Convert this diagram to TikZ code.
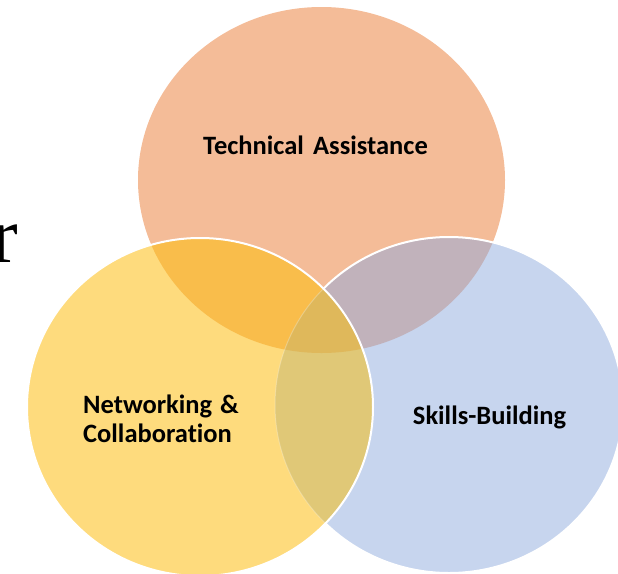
\documentclass[tikz,border=0pt]{standalone}
\usepackage{fontspec}
\setmainfont[Ligatures=NoCommon]{Carlito}
\newfontfamily\serifr{Liberation Serif}
\definecolor{cOr}{RGB}{244,188,152}
\definecolor{cYe}{RGB}{254,219,125}
\definecolor{cBl}{RGB}{199,213,238}
\definecolor{cOY}{RGB}{249,189,75}
\definecolor{cOB}{RGB}{193,178,187}
\definecolor{cYB}{RGB}{224,200,119}
\definecolor{cOYB}{RGB}{223,184,91}
\tikzset{
  lbl/.style={inner sep=0pt, text=black, font=\bfseries\fontsize{26.5}{28.5}\selectfont},
  rim/.style={draw=white, line width=2pt}
}
\def\Or{(321.5,180) ellipse [x radius=183.5pt, y radius=173pt]}
\def\Ye{(200,407) ellipse [x radius=173pt, y radius=169pt]}
\def\Bl{(449,405) ellipse [x radius=174pt, y radius=168pt]}
\begin{document}
\begin{tikzpicture}[x=1pt,y=-1pt]
\useasboundingbox (0,0) rectangle (618,573);
\clip (0,0) rectangle (618,573);
% stray glyph at the left edge
\node[anchor=base west, inner sep=0pt, font=\serifr\fontsize{80}{80}\selectfont] (rr) at (-9,262) {r};
% base circles
\fill[cOr] \Or;
\fill[cBl] \Bl;
\begin{scope}
  \clip \Or;
  \fill[cOB] \Bl;
\end{scope}
\draw[rim] \Bl;
% yellow circle and its overlaps
\fill[cYe] \Ye;
\begin{scope}
  \clip \Ye;
  \fill[cOY] \Or;
  \fill[cYB] \Bl;
  \clip \Or;
  \fill[cOYB] \Bl;
\end{scope}
\begin{scope}
  \clip \Ye;
  \draw[draw=white, line width=1pt, opacity=0.25] \Bl;
\end{scope}
\draw[rim] \Ye;
% labels
\node[lbl] (ta) at (315.5,145) {Technical\hspace{0.35em}Assistance};
\node[lbl, align=left, anchor=west] (nc) at (83,419) {Networking\hspace{0.3em}\&\\Collaboration};
\node[lbl] (sb) at (489.5,417) {Skills-Building};
\end{tikzpicture}
\end{document}
